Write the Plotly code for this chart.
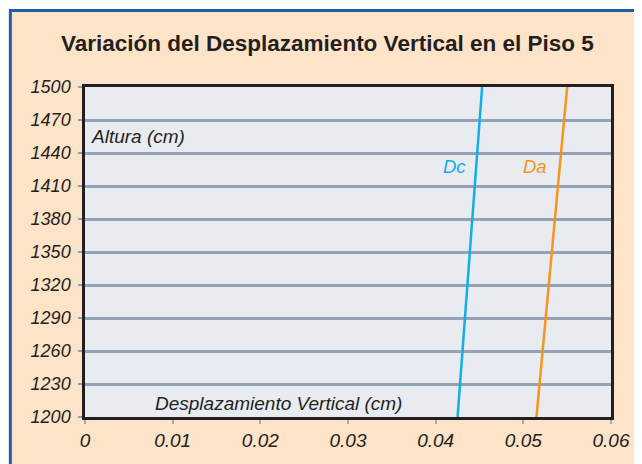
import plotly.graph_objects as go

# Data
alturas = [1200, 1500]
dc = [0.0425, 0.0453]
da = [0.0515, 0.0550]
x_ticks = [0, 0.01, 0.02, 0.03, 0.04, 0.05, 0.06]
x_ticktext = ["0", "0.01", "0.02", "0.03", "0.04", "0.05", "0.06"]
y_ticks = [1200, 1230, 1260, 1290, 1320, 1350, 1380, 1410, 1440, 1470, 1500]

FONT = "Liberation Sans, Arial, sans-serif"
TXT = "#231f20"
OFF = 8  # page body margin
W, H = 642 - OFF, 464 - OFF
L, R, T, B = 85 - OFF, 617 - OFF, 87 - OFF, 417 - OFF

def px(x):
    return (x - OFF - L) / (R - L)

def py(y):
    return (B - (y - OFF)) / (B - T)

fig = go.Figure()
fig.add_trace(go.Scatter(x=dc, y=alturas, mode="lines", name="Dc",
                         line=dict(color="#12aee8", width=2.5), showlegend=False))
fig.add_trace(go.Scatter(x=da, y=alturas, mode="lines", name="Da",
                         line=dict(color="#f7941d", width=2.5), showlegend=False))

shapes = [
    dict(type="rect", xref="paper", yref="paper", layer="below",
         x0=px(9.5), x1=px(700), y0=py(520), y1=py(10.5),
         fillcolor="#fde4c9", line=dict(color="#1b5ea5", width=3)),
    dict(type="rect", xref="paper", yref="paper", layer="below",
         x0=0, x1=1, y0=0, y1=1, fillcolor="#e8ebf0", line=dict(width=0)),
]

annotations = [
    dict(text="Dc", x=0.0421, y=1428, xref="x", yref="y", showarrow=False,
         font=dict(family=FONT, size=18.5, color="#12aee8", style="italic")),
    dict(text="Da", x=0.0513, y=1428, xref="x", yref="y", showarrow=False,
         font=dict(family=FONT, size=18.5, color="#f7941d", style="italic")),
    dict(text="Altura (cm)", x=0.0005, y=1455, xref="x", yref="y", showarrow=False,
         xanchor="left", font=dict(family=FONT, size=19, color=TXT, style="italic")),
    dict(text="Desplazamiento Vertical (cm)", x=0.0077, y=1212.5, xref="x", yref="y",
         showarrow=False, xanchor="left",
         font=dict(family=FONT, size=19, color=TXT, style="italic")),
    dict(text="<b>Variación del Desplazamiento Vertical en el Piso 5</b>",
         x=px(330), y=py(43), xref="paper", yref="paper", showarrow=False,
         xanchor="center", yanchor="middle",
         font=dict(family=FONT, size=22.5, color=TXT)),
]

fig.update_layout(
    width=W, height=H,
    margin=dict(l=L, r=W - R, t=T, b=H - B, pad=0),
    paper_bgcolor="white",
    plot_bgcolor="rgba(0,0,0,0)",
    shapes=shapes,
    annotations=annotations,
    font=dict(family=FONT, color=TXT),
)
fig.update_xaxes(
    range=[0, 0.06], tickvals=x_ticks, ticktext=x_ticktext,
    showgrid=False, zeroline=False,
    showline=True, linecolor="#231f20", linewidth=2.5, mirror=True,
    ticks="outside", ticklen=4, tickwidth=2, tickcolor="#9aabbd",
    tickfont=dict(family=FONT, size=19, color=TXT, style="italic"),
)
fig.update_yaxes(
    range=[1200, 1500], tickvals=y_ticks,
    showgrid=True, gridcolor="#93a2b4", gridwidth=2.5, zeroline=False,
    showline=True, linecolor="#231f20", linewidth=2.5, mirror=True,
    ticks="outside", ticklen=4, tickwidth=2, tickcolor="#8a9bb0",
    ticklabelstandoff=4,
    tickfont=dict(family=FONT, size=18, color=TXT, style="italic"),
)

fig.write_html("out.html")
